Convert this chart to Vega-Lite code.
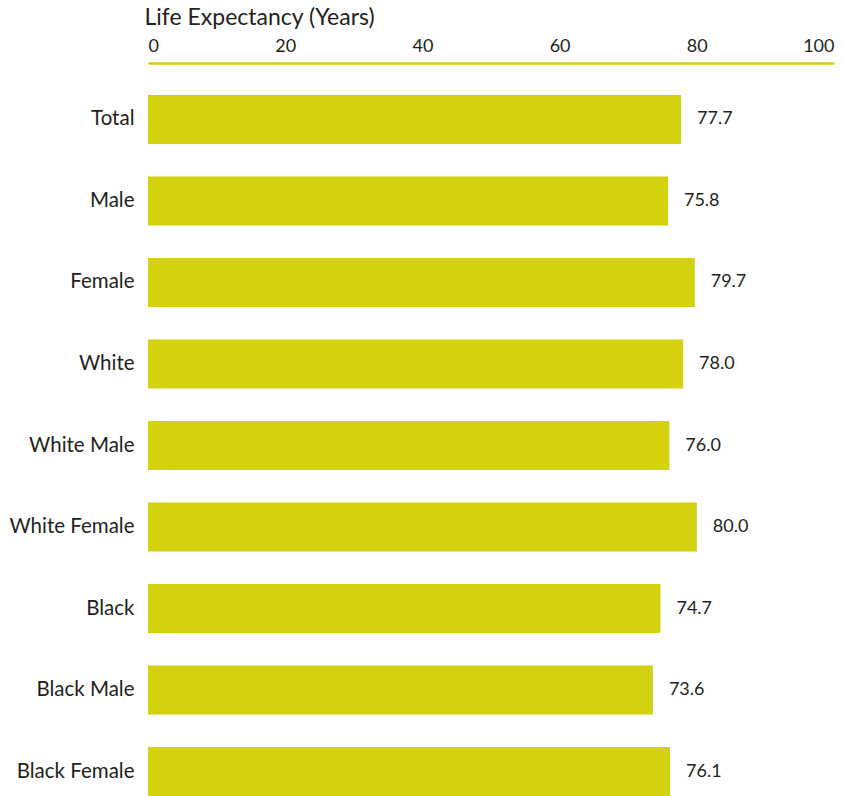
{
  "$schema": "https://vega.github.io/schema/vega-lite/v6.json",
  "autosize": {"type": "none"},
  "width": 686,
  "height": 701,
  "padding": {"left": 148, "top": 95, "right": 8, "bottom": 0},
  "background": "white",
  "config": {
    "view": {"stroke": null},
    "font": "Lato",
    "text": {"font": "Lato"}
  },
  "data": {
    "values": [
      {"group": "Total", "years": 77.7},
      {"group": "Male", "years": 75.8},
      {"group": "Female", "years": 79.7},
      {"group": "White", "years": 78.0},
      {"group": "White Male", "years": 76.0},
      {"group": "White Female", "years": 80.0},
      {"group": "Black", "years": 74.7},
      {"group": "Black Male", "years": 73.6},
      {"group": "Black Female", "years": 76.1}
    ]
  },
  "encoding": {
    "y": {
      "field": "group",
      "type": "nominal",
      "sort": null,
      "scale": {"paddingInner": 0.4, "paddingOuter": 0},
      "axis": {
        "title": null,
        "domain": false,
        "ticks": false,
        "labelFontSize": 20.5,
        "labelColor": "#231f20",
        "labelPadding": 14,
        "labelFont": "Lato"
      }
    },
    "x": {
      "field": "years",
      "type": "quantitative",
      "scale": {"domain": [0, 100], "nice": false},
      "axis": {
        "orient": "top",
        "offset": 32,
        "title": "Life Expectancy (Years)",
        "titleFontSize": 23,
        "titleFontWeight": "normal",
        "titleColor": "#231f20",
        "titleFont": "Lato",
        "titleAnchor": "start",
        "titleAlign": "left",
        "titleX": -4,
        "titlePadding": 8,
        "values": [0, 20, 40, 60, 80, 100],
        "labelFlush": true,
        "labelFontSize": 18,
        "labelColor": "#231f20",
        "labelFont": "Lato",
        "labelPadding": 8,
        "ticks": false,
        "grid": false,
        "domainColor": "#d4d10e",
        "domainWidth": 2.5
      }
    }
  },
  "layer": [
    {"mark": {"type": "bar", "color": "#d4d10e"}},
    {
      "mark": {"type": "text", "align": "left", "baseline": "middle", "dx": 16, "fontSize": 18, "color": "#231f20"},
      "encoding": {"text": {"field": "years", "type": "quantitative", "format": ".1f"}}
    }
  ]
}
